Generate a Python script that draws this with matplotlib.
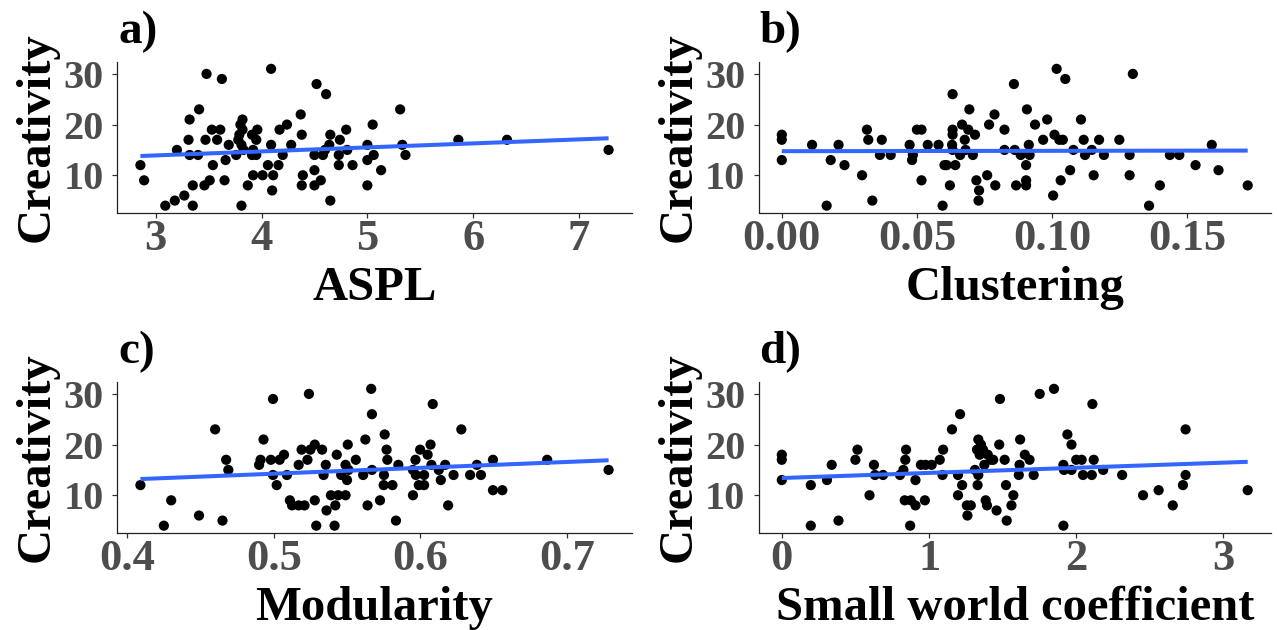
import numpy as np
import matplotlib
matplotlib.use("Agg")
import matplotlib.pyplot as plt

# ---------------- data ----------------
aspl_x = [2.855, 2.89, 3.09, 3.18, 3.27, 3.35, 3.35, 3.32, 3.41, 3.48, 3.625, 3.31, 3.20, 3.32, 3.40,
          3.47, 3.53, 3.61, 3.58, 3.54, 3.46, 3.51, 3.65, 3.66, 3.69, 3.76, 3.78, 3.79, 3.80, 3.82,
          3.82, 3.81, 3.83, 3.81, 3.87, 3.92, 3.91, 3.95, 3.92, 3.95, 3.91, 3.96, 4.01, 4.06, 4.09,
          4.09, 4.11, 4.10, 4.16, 4.17, 4.20, 4.24, 4.28, 4.37, 4.38, 4.39, 4.38, 4.50, 4.50, 4.56,
          4.50, 4.52, 4.61, 4.58, 4.60, 4.64, 4.65, 4.65, 4.73, 4.73, 4.74, 4.80, 4.81, 4.86, 5.00,
          5.00, 5.00, 5.05, 5.06, 5.13, 5.31, 5.33, 5.36, 5.86, 6.32, 7.28]
aspl_y = [12, 9, 4, 5, 6, 4, 8, 21, 23, 30, 29, 17, 15, 14, 14,
          17, 19, 19, 17, 12, 8, 9, 9, 13, 16, 14, 17, 18, 20, 21,
          19, 16, 15, 4, 8, 10, 14, 14, 15, 17, 18, 19, 10, 12, 31,
          16, 10, 7, 12, 19, 14, 20, 16, 22, 18, 10, 8, 11, 8, 9,
          14, 28, 26, 14, 15, 16, 18, 5, 12, 14, 17, 19, 15, 12, 16,
          8, 13, 20, 14, 11, 23, 16, 14, 17, 17, 15]

clus_x = [0.000, 0.000, 0.000, 0.0112, 0.0166, 0.0181, 0.021, 0.0232, 0.0297, 0.0315, 0.032, 0.0335,
          0.0363, 0.037, 0.0403, 0.0473, 0.0485, 0.0482, 0.050, 0.0517, 0.0517, 0.054, 0.058, 0.0595,
          0.0602, 0.061, 0.0622, 0.0632, 0.063, 0.0632, 0.0632, 0.0632, 0.0642, 0.066, 0.0667, 0.0677,
          0.068, 0.069, 0.0694, 0.0707, 0.0715, 0.072, 0.073, 0.0728, 0.076, 0.0767, 0.0787, 0.079,
          0.0824, 0.0824, 0.0859, 0.0862, 0.0867, 0.0884, 0.0904, 0.0904, 0.0904, 0.0907, 0.0914,
          0.0917, 0.0937, 0.0967, 0.0982, 0.1004, 0.1009, 0.1017, 0.1032, 0.1027, 0.104, 0.1049,
          0.1067, 0.1079, 0.1107, 0.1117, 0.1122, 0.1147, 0.1154, 0.1174, 0.1192, 0.1249, 0.1287,
          0.1287, 0.1299, 0.1359, 0.1399, 0.1436, 0.1471, 0.1531, 0.1591, 0.1616, 0.1724]
clus_y = [18, 17, 13, 16, 4, 13, 16, 12, 10, 19, 17, 5,
          14, 17, 14, 16, 14, 13, 19, 19, 9, 16, 16, 4,
          12, 12, 8, 26, 16, 18, 19, 15, 12, 14, 20, 17,
          15, 19, 23, 14, 18, 9, 7, 5, 10, 20, 22, 8,
          19, 15, 28, 15, 8, 14, 9, 8, 12, 23, 16,
          14, 20, 17, 21, 6, 18, 31, 9, 17, 17, 29,
          11, 15, 21, 17, 14, 15, 10, 17, 14, 17, 14,
          10, 30, 4, 8, 14, 14, 12, 16, 11, 8]

mod_x = [0.409, 0.425, 0.430, 0.449, 0.460, 0.465, 0.4675, 0.469, 0.490, 0.491, 0.493, 0.4995,
         0.498, 0.4995, 0.502, 0.504, 0.507, 0.509, 0.511, 0.5125, 0.517, 0.521, 0.517, 0.519,
         0.523, 0.524, 0.525, 0.528, 0.528, 0.529, 0.533, 0.534, 0.5355, 0.536, 0.539, 0.5415,
         0.542, 0.543, 0.544, 0.546, 0.549, 0.549, 0.550, 0.5505, 0.551, 0.556, 0.561, 0.5625,
         0.564, 0.5665, 0.567, 0.567, 0.5725, 0.5757, 0.5752, 0.577, 0.5775, 0.575, 0.581, 0.5834,
         0.585, 0.595, 0.595, 0.5967, 0.597, 0.5999, 0.599, 0.6026, 0.6026, 0.605, 0.607, 0.6076,
         0.6085, 0.6126, 0.614, 0.617, 0.619, 0.6227, 0.628, 0.634, 0.6386, 0.6414, 0.6496,
         0.6496, 0.656, 0.6866, 0.7285]
mod_y = [12, 4, 9, 6, 23, 5, 17, 15, 16, 17, 21, 29,
         17, 14, 12, 17, 18, 14, 9, 8, 8, 8, 16, 19,
         17, 30, 19, 9, 20, 4, 19, 14, 16, 7, 10, 4,
         8, 18, 10, 14, 10, 16, 13, 20, 15, 17, 14, 21,
         8, 31, 26, 15, 9, 22, 14, 19, 17, 12, 12, 5,
         16, 15, 10, 17, 14, 19, 12, 14, 12, 18, 20, 16,
         28, 15, 13, 16, 8, 14, 23, 14, 16, 14, 17,
         11, 11, 17, 15]

sw_x = [0.0, 0.0, 0.0, 0.197, 0.197, 0.307, 0.339, 0.385, 0.50, 0.514, 0.596, 0.626, 0.633, 0.688,
        0.803, 0.826, 0.839, 0.844, 0.835, 0.872, 0.876, 0.908, 0.908, 0.945, 0.977, 0.972, 1.018,
        1.073, 1.092, 1.096, 1.156, 1.197, 1.197, 1.211, 1.225, 1.257, 1.261, 1.284, 1.312, 1.335,
        1.335, 1.33, 1.326, 1.344, 1.353, 1.367, 1.376, 1.385, 1.394, 1.399, 1.422, 1.436, 1.459,
        1.477, 1.482, 1.514, 1.523, 1.528, 1.56, 1.573, 1.61, 1.615, 1.619, 1.651, 1.683, 1.711,
        1.752, 1.849, 1.913, 1.913, 1.917, 1.94, 1.968, 1.968, 2.0, 2.037, 2.046, 2.106, 2.11,
        2.119, 2.183, 2.312, 2.454, 2.56, 2.656, 2.725, 2.743, 2.743, 3.165]
sw_y = [18, 17, 13, 12, 4, 13, 16, 5, 17, 19, 10, 16, 14, 14,
        14, 15, 17, 19, 9, 4, 9, 8, 13, 16, 16, 9, 16,
        17, 14, 19, 23, 10, 14, 26, 12, 8, 6, 8, 15, 21,
        14, 12, 19, 18, 20, 19, 16, 9, 8, 18, 17, 17, 7,
        20, 29, 17, 12, 5, 8, 10, 14, 16, 21, 18, 17, 14,
        30, 31, 4, 16, 15, 22, 20, 15, 17, 17, 14, 14, 28,
        17, 15, 14, 10, 11, 8, 12, 14, 23, 11]

# linear-fit lines: (x_start, y_start, x_end, y_end)
fit_a = [2.855, 13.8, 7.28, 17.3]
fit_b = [0.0, 14.75, 0.1724, 14.87]
fit_c = [0.409, 13.2, 0.7285, 16.9]
fit_d = [0.0, 13.4, 3.165, 16.6]

panels = [
    ("a)", "ASPL", aspl_x, aspl_y, fit_a, [3, 4, 5, 6, 7], ["3", "4", "5", "6", "7"]),
    ("b)", "Clustering", clus_x, clus_y, fit_b, [0.0, 0.05, 0.10, 0.15], ["0.00", "0.05", "0.10", "0.15"]),
    ("c)", "Modularity", mod_x, mod_y, fit_c, [0.4, 0.5, 0.6, 0.7], ["0.4", "0.5", "0.6", "0.7"]),
    ("d)", "Small world coefficient", sw_x, sw_y, fit_d, [0, 1, 2, 3], ["0", "1", "2", "3"]),
]
y_ticks = [10, 20, 30]

# ---------------- style ----------------
plt.rcParams['font.family'] = ['Liberation Serif', 'DejaVu Serif']
plt.rcParams['font.weight'] = 'bold'

W, H = 1277, 630
fig = plt.figure(figsize=(W / 100, H / 100), dpi=100)

# axes boxes in pixels: (left, top, right, bottom)
boxes = [(117, 62, 632, 212.5), (758.5, 62, 1271, 212.5),
         (117, 382, 632, 532.5), (758.5, 382, 1271, 532.5)]

for (tag, xlab, xs, ys, fit, xt, xtl), (l, t, r, b) in zip(panels, boxes):
    ax = fig.add_axes([l / W, 1 - b / H, (r - l) / W, (b - t) / H])
    ax.scatter(xs, ys, s=54, color='black', edgecolors='none', zorder=3)
    ax.plot([fit[0], fit[2]], [fit[1], fit[3]], color='#3366FF', lw=2.9, zorder=4,
            solid_capstyle='butt')
    ax.margins(x=0.05, y=0.05)
    ax.set_xticks(xt)
    ax.set_xticklabels(xtl)
    ax.set_yticks(y_ticks)
    for s in ['top', 'right']:
        ax.spines[s].set_visible(False)
    for s in ['left', 'bottom']:
        ax.spines[s].set_linewidth(0.9)
        ax.spines[s].set_color('#222222')
    ax.tick_params(axis='both', length=3.5, width=0.9, color='#333333',
                   labelcolor='#4D4D4D')
    ax.tick_params(axis='x', pad=1.5, labelsize=32)
    ax.tick_params(axis='y', pad=6, labelsize=29)
    for lab in ax.get_xticklabels() + ax.get_yticklabels():
        lab.set_fontweight('bold')
    h = b - t
    w = r - l
    ax.set_xlabel(xlab, fontsize=35, fontweight='bold', color='black')
    ax.xaxis.label.set_va('baseline')
    ax.xaxis.set_label_coords(0.5, -(300 - 212.5) / h)
    ax.set_ylabel("Creativity", fontsize=35, fontweight='bold', color='black')
    ax.yaxis.label.set_va('center')
    ax.yaxis.set_label_coords(-80.0 / w, 0.5)
    fig.text((l + 1) / W, 1 - (t - 18.5) / H, tag, fontsize=34, fontweight='bold',
             ha='left', va='baseline')

fig.savefig("out.png", dpi=100)
